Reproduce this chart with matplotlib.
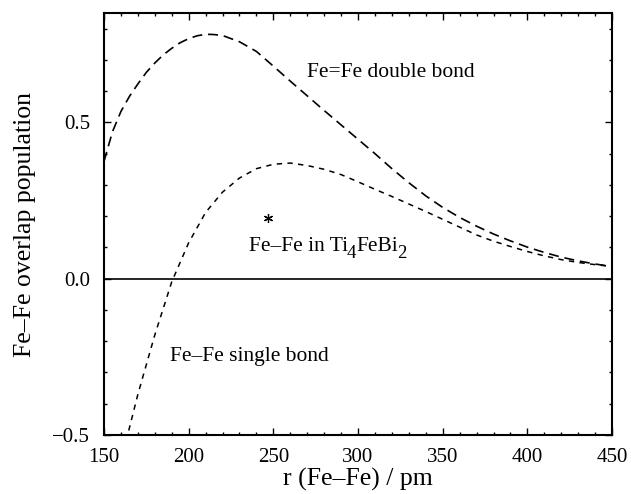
import matplotlib
matplotlib.use("Agg")
import matplotlib.pyplot as plt
from matplotlib.ticker import MultipleLocator

r_double = [150, 155, 160, 165, 170, 175, 180, 185, 190, 195, 200, 205, 210, 215, 220,
            230, 240, 250, 260, 270, 280, 290, 300, 310, 320, 330, 340, 350, 360, 370,
            380, 390, 400, 410, 420, 430, 440, 450]
op_double = [0.375, 0.470, 0.535, 0.583, 0.623, 0.660, 0.690, 0.716, 0.737, 0.755, 0.768,
             0.777, 0.782, 0.781, 0.778, 0.758, 0.727, 0.680, 0.632, 0.585, 0.538, 0.492,
             0.446, 0.400, 0.352, 0.307, 0.265, 0.228, 0.196, 0.168, 0.143, 0.121, 0.101,
             0.084, 0.069, 0.057, 0.047, 0.039]

r_single = [160, 170, 180, 190, 200, 210, 220, 230, 240, 250, 260, 270, 280, 290, 300,
            310, 320, 330, 340, 350, 360, 370, 380, 390, 400, 410, 420, 430, 440, 450]
op_single = [-0.585, -0.370, -0.180, -0.010, 0.115, 0.212, 0.277, 0.322, 0.352, 0.366,
             0.370, 0.362, 0.350, 0.333, 0.310, 0.286, 0.263, 0.239, 0.215, 0.190, 0.165,
             0.140, 0.120, 0.103, 0.087, 0.073, 0.061, 0.052, 0.045, 0.039]

star_r = [247]
star_op = [0.195]

x_ticks = [150, 200, 250, 300, 350, 400, 450]
y_ticks = [-0.5, 0.0, 0.5]
y_ticklabels = ["\u22120.5", "0.0", "0.5"]

plt.rcParams['font.family'] = ['Liberation Serif', 'DejaVu Serif']

fig = plt.figure(figsize=(6.31, 4.94), dpi=100)
ax = fig.add_axes([0.1648, 0.1194, 0.8052, 0.8543])

ax.plot(r_double, op_double, color='black', lw=1.2, dashes=(6, 3.5))
ax.plot(r_single, op_single, color='black', lw=1.1, dashes=(3.5, 3.5))
ax.axhline(0.0, color='black', lw=1.2)
ax.plot(star_r, star_op, linestyle='none', marker=(6, 2, 0), color='black',
        markersize=6.5, markeredgewidth=0.9)

FS = 15.5
FS_SUB = 13.5
ax.text(270, 0.644, "Fe=Fe double bond", fontsize=FS, va='baseline', ha='left')
ax.text(189, -0.263, "Fe\u2013Fe single bond", fontsize=FS, va='baseline', ha='left')

# "Fe–Fe in Ti4FeBi2" with large, deeply dropped subscripts
t0 = ax.text(235.5, 0.0897, "Fe\u2013Fe in Ti", fontsize=FS, va='baseline', ha='left')
t1 = ax.annotate("4", xy=(1, 0), xycoords=t0, xytext=(-0.6, -4.6),
                 textcoords='offset points', fontsize=FS_SUB, va='bottom', ha='left')
t2 = ax.annotate("FeBi", xy=(1, 0), xycoords=(t1, t0), xytext=(-0.3, 0),
                 textcoords='offset points', fontsize=FS, va='bottom', ha='left')
t3 = ax.annotate("2", xy=(1, 0), xycoords=(t2, t0), xytext=(-0.6, -4.6),
                 textcoords='offset points', fontsize=FS_SUB, va='bottom', ha='left')

ax.set_xlim(150, 450)
ax.set_ylim(-0.5, 0.85)
ax.set_xticks(x_ticks)
ax.set_yticks(y_ticks)
ax.set_yticklabels(y_ticklabels)
ax.xaxis.set_minor_locator(MultipleLocator(10))
ax.yaxis.set_minor_locator(MultipleLocator(0.1))
ax.tick_params(which='both', direction='in', top=True, right=True, labelsize=15, width=1.0)
ax.tick_params(which='major', length=5)
ax.tick_params(which='minor', length=2.5)
ax.tick_params(axis='x', which='major', pad=9.3)
ax.tick_params(axis='y', which='major', pad=10)
for s in ax.spines.values():
    s.set_linewidth(1.5)

ax.set_xlabel("r (Fe\u2013Fe) / pm", fontsize=18.5, labelpad=1)
ax.set_ylabel("Fe\u2013Fe overlap population", fontsize=18.5, labelpad=12)

fig.savefig("out.png", dpi=100)
